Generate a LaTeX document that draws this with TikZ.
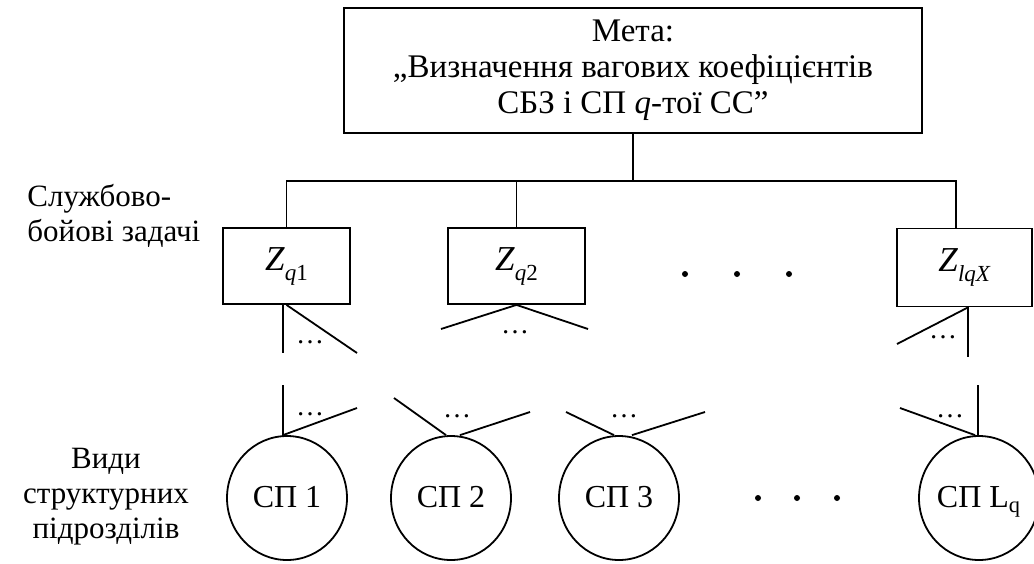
\documentclass[tikz,border=0pt]{standalone}
\usepackage{fontspec}
\setmainfont{Liberation Serif}
\usetikzlibrary{shapes.geometric}
\newcommand\Zsub[1]{\textit{Z}\raisebox{-5pt}{\fontsize{11.5}{11.5}\selectfont #1}}
\begin{document}
\begin{tikzpicture}[x=0.5pt,y=-0.5pt,
  ln/.style={line width=0.9pt},
  goalbox/.style={draw, line width=0.9pt, minimum width=289pt, minimum height=62.5pt, inner sep=0pt, align=center, font=\fontsize{16.5}{18}\selectfont},
  taskbox/.style={draw, line width=0.9pt, minimum height=38pt, inner sep=0pt, font=\fontsize{17.5}{20}\selectfont},
  unitnode/.style={draw, ellipse, line width=0.9pt, minimum width=60pt, minimum height=62pt, inner sep=0pt, text height=11pt, text depth=2pt, font=\fontsize{16}{18}\selectfont},
  lbl/.style={font=\fontsize{15.5}{17.5}\selectfont, inner sep=0pt},
  ell/.style={font=\fontsize{14}{14}\selectfont, inner sep=0pt, anchor=base},
  bigdot/.style={circle, fill, inner sep=0pt, minimum size=3pt}
]
\useasboundingbox (0,0) rectangle (1034,563);
\clip (0,0) rectangle (1034,563);

% goal
\node[goalbox] (goal) at (633,70.5) {Мета:\\„Визначення вагових коефіцієнтів\\СБЗ і СП \textit{q}-тої СС”};

% tasks
\node[taskbox, minimum width=63.5pt] (z1) at (286.5,266) {\Zsub{\textit{q}1}};
\node[taskbox, minimum width=68.5pt] (z2) at (516.5,266) {\Zsub{\textit{q}2}};
\node[taskbox, minimum width=67.5pt, minimum height=39pt] (zx) at (964.5,267.5) {\Zsub{\textit{lqX}}};

% bus
\coordinate (busR) at (956,181);
\draw[ln] (goal.south) -- (goal.south |- busR);
\draw[ln] (z1.north) |- (busR) -- (busR |- zx.north);
\draw[ln] (z2.north) -- (z2.north |- busR);

% row dots
\node[bigdot] (d1) at (685,274) {};
\node[bigdot] (d2) at (737,274) {};
\node[bigdot] (d3) at (789,274) {};

% units
\node[unitnode] (c1) at (287,498) {СП 1};
\node[unitnode] (c2) at (451,498) {СП 2};
\node[unitnode] (c3) at (619,498) {СП 3};
\node[unitnode] (cL) at (979,498) {СП L\textsubscript{q}};

\node[bigdot] (e1) at (758,498) {};
\node[bigdot] (e2) at (797,498) {};
\node[bigdot] (e3) at (837,498) {};

% fans below tasks
\coordinate (z1a) at (283,353);
\coordinate (z1b) at (357,353);
\draw[ln] ([xshift=-1.75pt]z1.south) -- (z1a);
\draw[ln] (z1.south) -- (z1b);
\node[ell] (z1d) at (310,343) {…};

\coordinate (z2a) at (441,329);
\coordinate (z2b) at (588,329);
\draw[ln] (z2a) -- (z2.south) -- (z2b);
\node[ell] (z2d) at (515,333) {…};

\coordinate (zxa) at (897,344);
\coordinate (zxb) at (968,357);
\draw[ln] ([xshift=1.75pt]zx.south) -- (zxb);
\draw[ln] ([xshift=1.75pt]zx.south) -- (zxa);
\node[ell] (zxd) at (943,338) {…};

% fans above units
\coordinate (c1a) at (283,385);
\coordinate (c1b) at (357,408);
\draw[ln] (c1a) -- ([xshift=-2pt]c1.north) -- (c1b);
\node[ell] (c1d) at (310,415) {…};

\coordinate (c2a) at (394,398);
\coordinate (c2b) at (530,412);
\draw[ln] (c2a) -- ([xshift=-2.5pt]c2.north);
\draw[ln] ([xshift=4.5pt]c2.north) -- (c2b);
\node[ell] (c2d) at (457,417) {…};

\coordinate (c3a) at (566,412);
\coordinate (c3b) at (705,412);
\draw[ln] (c3a) -- ([xshift=-2.5pt]c3.north);
\draw[ln] ([xshift=6.5pt]c3.north) -- (c3b);
\node[ell] (c3d) at (624,417) {…};

\coordinate (cLa) at (900,408);
\coordinate (cLb) at (978,385);
\draw[ln] (cLa) -- ([xshift=-2pt]cL.north);
\draw[ln] (cLb) -- ([xshift=-0.5pt]cL.north);
\node[ell] (cLd) at (950,417) {…};

% side labels
\node[lbl, align=left, anchor=west] (l1) at (27,216) {Службово-\\бойові задачі};
\node[lbl, align=center] (l2) at (106,497) {Види\\структурних\\підрозділів};
\end{tikzpicture}
\end{document}
